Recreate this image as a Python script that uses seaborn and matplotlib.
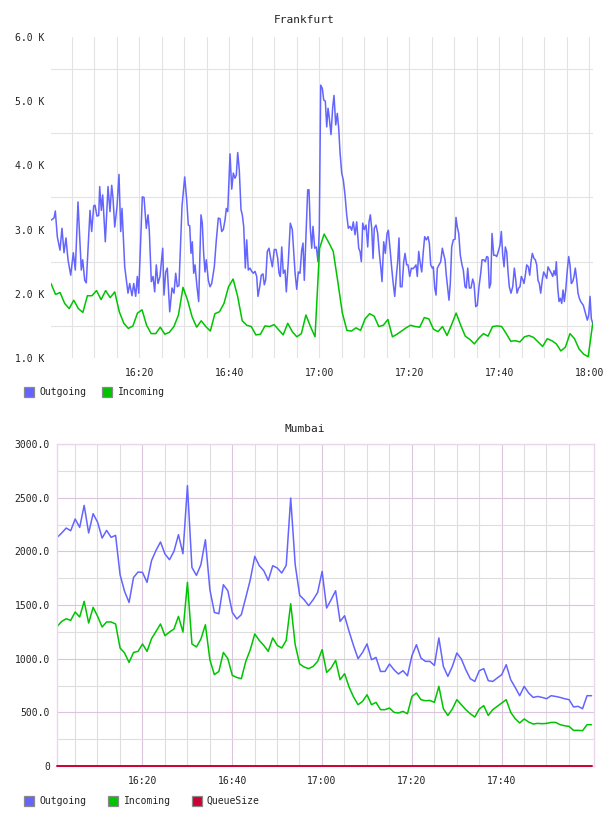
import numpy as np
import pandas as pd
import matplotlib
matplotlib.use("Agg")
import matplotlib.pyplot as plt
import seaborn as sns
from matplotlib.patches import Rectangle
from matplotlib.ticker import FixedLocator, FuncFormatter, NullFormatter

# ---------------- data ----------------
# Frankfurt (values in thousands), minutes after 16:00
fra_out_min = [
    0.47, 1.07, 1.36, 1.8, 2.4, 2.84, 3.29, 3.73, 4.18, 4.78, 5.36, 5.8, 6.4, 7.13, 7.44, 7.89, 8.24,
    9.07, 9.44, 9.89, 10.18, 10.62, 11.0, 11.22, 11.58, 11.89, 12.47, 13.07, 13.51, 13.89, 14.18,
    14.56, 15.07, 15.51, 15.89, 16.18, 16.78, 17.51, 17.89, 18.4, 18.78, 19.22, 19.58, 19.89,
    20.69, 21.07, 21.58, 21.96, 22.24, 22.69, 23.07, 23.44, 23.8, 24.18, 24.62, 25.22, 25.51,
    25.89, 26.24, 26.78, 27.29, 27.73, 28.11, 28.47, 28.84, 29.51, 30.11, 30.56, 30.91, 31.22,
    31.51, 31.8, 32.11, 32.4, 32.84, 33.22, 33.73, 34.02, 34.33, 34.62, 34.91, 35.36, 35.73,
    36.11, 36.69, 37.13, 37.58, 37.96, 38.33, 38.69, 39.07, 39.36, 39.67, 40.18, 40.56, 40.91,
    41.29, 41.58, 41.89, 42.24, 42.62, 42.91, 43.22, 43.58, 43.89, 44.24, 44.62, 45.0, 45.36,
    45.73, 46.11, 46.4, 46.78, 47.13, 47.51, 47.8, 48.11, 48.47, 48.84, 49.22, 49.58, 50.02,
    50.4, 50.78, 51.07, 51.36, 51.67, 52.02, 52.4, 52.69, 53.13, 53.58, 54.02, 54.62, 55.0,
    55.36, 55.73, 56.11, 56.4, 56.69, 57.0, 57.44, 57.73, 58.02, 58.33, 58.62, 59.0, 59.36,
    59.73, 60.02, 60.33, 60.69, 61.0, 61.36, 61.67, 61.96, 62.24, 62.62, 63.0, 63.29, 63.67,
    64.02, 64.33, 64.62, 65.0, 65.36, 65.73, 66.11, 66.47, 66.84, 67.22, 67.58, 67.96, 68.33,
    68.78, 69.07, 69.36, 69.67, 70.02, 70.4, 70.78, 71.07, 71.36, 71.67, 71.96, 72.24, 72.62,
    73.0, 73.36, 73.67, 73.96, 74.33, 74.69, 75.07, 75.36, 75.73, 76.11, 76.4, 76.78, 77.13,
    77.44, 77.73, 78.02, 78.4, 78.78, 79.07, 79.44, 79.73, 80.11, 80.47, 80.84, 81.22, 81.51,
    81.8, 82.11, 82.4, 82.78, 83.13, 83.44, 83.8, 84.18, 84.47, 84.78, 85.13, 85.36, 85.67,
    85.96, 86.24, 86.62, 87.0, 87.36, 87.67, 87.96, 88.24, 88.56, 88.84, 89.13, 89.44, 89.8,
    90.18, 90.4, 90.69, 91.0, 91.36, 91.73, 92.02, 92.4, 92.69, 93.0, 93.36, 93.73, 94.11,
    94.4, 94.78, 95.13, 95.51, 95.89, 96.18, 96.56, 96.91, 97.22, 97.51, 97.8, 98.11, 98.4,
    98.78, 99.13, 99.44, 99.8, 100.18, 100.47, 100.78, 101.07, 101.36, 101.67, 101.96, 102.24,
    102.62, 103.0, 103.36, 103.67, 103.96, 104.33, 104.62, 104.91, 105.24, 105.51, 105.8,
    106.11, 106.47, 106.78, 107.07, 107.36, 107.73, 108.02, 108.33, 108.62, 108.91, 109.22,
    109.58, 109.89, 110.24, 110.56, 110.84, 111.22, 111.58, 111.89, 112.18, 112.47, 112.69,
    113.0, 113.29, 113.58, 113.89, 114.18, 114.47, 114.78, 115.13, 115.44, 115.73, 116.02,
    116.33, 116.62, 116.91, 117.22, 117.51, 117.8, 118.11, 118.4, 118.69, 119.0, 119.29,
    119.58, 119.89, 120.18, 120.47, 120.78,
]
fra_out_k = [
    3.15, 3.18, 3.29, 2.89, 2.68, 3.02, 2.64, 2.87, 2.53, 2.29, 2.64, 2.37, 3.43, 2.37, 2.53, 2.21, 2.17,
    3.30, 2.97, 3.37, 3.38, 3.21, 3.22, 3.67, 3.30, 3.54, 2.81, 3.67, 3.28, 3.69, 3.49,
    3.04, 3.36, 3.86, 2.97, 3.33, 2.42, 2.01, 2.16, 1.97, 2.16, 1.96, 2.27, 2.01,
    3.51, 3.50, 3.02, 3.23, 2.99, 2.19, 2.27, 2.03, 2.45, 2.16, 2.27, 2.71, 1.98,
    2.34, 2.40, 1.72, 2.09, 2.01, 2.32, 2.11, 2.13, 3.36, 3.82, 3.46, 3.07, 3.06,
    2.63, 2.81, 2.32, 2.45, 2.11, 1.88, 3.23, 3.10, 2.62, 2.34, 2.53, 2.21, 2.11,
    2.16, 2.42, 2.83, 3.18, 3.17, 2.97, 3.00, 3.15, 3.33, 3.28, 4.18, 3.63, 3.88,
    3.80, 3.85, 4.20, 3.93, 3.31, 3.23, 3.05, 2.40, 2.84, 2.37, 2.40, 2.35, 2.32,
    2.35, 2.27, 1.96, 2.11, 2.29, 2.31, 2.14, 2.22, 2.66, 2.71, 2.55, 2.42, 2.69,
    2.69, 2.55, 2.32, 2.27, 2.73, 2.32, 2.37, 2.03, 2.50, 3.10, 3.00, 2.34, 2.07,
    2.34, 2.32, 2.68, 2.79, 2.21, 2.79, 3.62, 3.62, 3.02, 2.71, 3.05, 2.71, 2.73,
    2.50, 3.00, 5.25, 5.20, 5.02, 5.00, 4.60, 4.89, 4.74, 4.48, 4.91, 5.09, 4.63,
    4.81, 4.58, 4.21, 3.88, 3.77, 3.54, 3.23, 3.02, 3.05, 2.99, 3.12, 2.92, 3.12,
    2.71, 2.66, 2.50, 3.10, 3.00, 3.07, 2.73, 3.12, 3.23, 3.02, 2.55, 3.02, 3.07,
    2.94, 2.63, 2.42, 2.19, 2.81, 2.63, 2.94, 2.99, 2.71, 2.40, 2.19, 1.96, 2.27,
    2.50, 2.87, 2.11, 2.11, 2.50, 2.63, 2.45, 2.45, 2.27, 2.40, 2.39, 2.42, 2.45,
    2.27, 2.66, 2.50, 2.34, 2.66, 2.89, 2.84, 2.89, 2.79, 2.45, 2.40, 2.42, 2.09,
    1.98, 2.40, 2.45, 2.50, 2.71, 2.61, 2.53, 2.29, 2.09, 1.90, 2.16, 2.73, 2.84,
    2.85, 3.19, 3.04, 2.94, 2.60, 2.45, 2.37, 2.11, 2.09, 2.40, 2.09, 2.09, 2.23,
    2.16, 1.80, 1.82, 2.11, 2.32, 2.53, 2.53, 2.50, 2.58, 2.57, 2.09, 2.16, 2.94,
    2.60, 2.60, 2.58, 2.66, 2.76, 2.97, 2.60, 2.42, 2.73, 2.65, 2.34, 2.11,
    2.01, 2.11, 2.40, 2.22, 2.01, 2.09, 2.11, 2.27, 2.22, 2.16, 2.29,
    2.45, 2.42, 2.29, 2.50, 2.63, 2.55, 2.53, 2.45, 2.21, 2.16, 2.01,
    2.22, 2.34, 2.29, 2.24, 2.42, 2.37, 2.32, 2.27, 2.36, 2.29, 2.50,
    2.09, 1.88, 1.93, 1.85, 2.06, 1.88, 2.06, 2.37, 2.58, 2.45, 2.16,
    2.19, 2.27, 2.40, 2.22, 2.01, 1.93, 1.88, 1.85, 1.82, 1.74, 1.67,
    1.59, 1.67, 1.96, 1.61, 1.54,
]
# one sample per minute, from 16:00:24 to 18:00:47
fra_in_first_min, fra_in_last_min = 0.4, 120.78
fra_in_k = [
    2.16, 1.99, 2.02, 1.85, 1.77, 1.90, 1.77, 1.71, 1.97, 1.97,
    2.05, 1.91, 2.05, 1.94, 2.03, 1.72, 1.54, 1.46, 1.50, 1.70,
    1.75, 1.51, 1.38, 1.38, 1.48, 1.37, 1.40, 1.49, 1.67, 2.10,
    1.90, 1.64, 1.48, 1.58, 1.49, 1.42, 1.69, 1.72, 1.85, 2.11,
    2.23, 1.96, 1.58, 1.51, 1.49, 1.36, 1.37, 1.50, 1.49, 1.52,
    1.44, 1.36, 1.54, 1.41, 1.33, 1.38, 1.67, 1.49, 1.33, 2.71,
    2.93, 2.80, 2.66, 2.19, 1.70, 1.43, 1.42, 1.47, 1.43, 1.61,
    1.69, 1.65, 1.49, 1.51, 1.60, 1.33, 1.37, 1.42, 1.47, 1.51,
    1.49, 1.48, 1.63, 1.61, 1.45, 1.41, 1.49, 1.35, 1.52, 1.70,
    1.51, 1.34, 1.29, 1.22, 1.31, 1.38, 1.34, 1.49, 1.50, 1.49,
    1.38, 1.26, 1.27, 1.25, 1.33, 1.35, 1.32, 1.25, 1.18, 1.30,
    1.27, 1.22, 1.11, 1.17, 1.38, 1.30, 1.14, 1.06, 1.02, 1.54,
]
fra_ticks_k = [1, 2, 3, 4, 5, 6]

# Mumbai: one sample per minute starting 16:01:03
mum_first_min = 1.05
mum_out = [
    2130, 2171, 2217, 2192, 2301, 2223, 2428, 2171, 2351, 2270,
    2124, 2195, 2130, 2149, 1782, 1627, 1524, 1757, 1807, 1804,
    1711, 1913, 2009, 2087, 1975, 1922, 2000, 2155, 1978, 2612,
    1850, 1776, 1876, 2108, 1643, 1431, 1419, 1689, 1633, 1431,
    1370, 1410, 1570, 1736, 1953, 1866, 1820, 1729, 1866, 1845,
    1798, 1869, 2497, 1876, 1590, 1549, 1494, 1549, 1617, 1813,
    1472, 1549, 1633, 1347, 1400, 1254, 1121, 1000, 1058, 1137,
    990, 1012, 881, 881, 950, 897, 857, 888, 841, 1028,
    1130, 1006, 975, 975, 937, 1193, 928, 835, 928, 1053,
    997, 897, 813, 788, 888, 907, 795, 788, 820, 851,
    944, 804, 732, 655, 742, 680, 639, 648, 639, 627,
    655, 648, 639, 627, 618, 550, 556, 534, 655, 655,
]
mum_in = [
    1301, 1347, 1372, 1357, 1435, 1388, 1534, 1332, 1478, 1394,
    1295, 1342, 1342, 1323, 1099, 1053, 965, 1058, 1068, 1137,
    1068, 1186, 1254, 1323, 1214, 1248, 1276, 1394, 1248, 1711,
    1137, 1109, 1183, 1316, 990, 851, 881, 1058, 1000, 844,
    825, 813, 975, 1084, 1230, 1170, 1124, 1068, 1193, 1124,
    1099, 1170, 1512, 1130, 950, 922, 907, 928, 975, 1084,
    872, 913, 984, 804, 860, 736, 643, 571, 602, 664,
    571, 593, 525, 525, 540, 500, 494, 509, 487, 648,
    680, 618, 608, 611, 593, 742, 534, 471, 531, 618,
    571, 525, 487, 456, 531, 562, 471, 525, 556, 587,
    618, 500, 441, 401, 438, 410, 391, 397, 394, 397,
    406, 406, 385, 375, 369, 332, 332, 329, 385, 385,
]
mum_queue = [0] * len(mum_out)  # QueueSize stays at zero all along
mum_ticks = [0, 500, 1000, 1500, 2000, 2500, 3000]

time_ticks_min = [20, 40, 60, 80, 100, 120]
time_tick_labels = ["16:20", "16:40", "17:00", "17:20", "17:40", "18:00"]

# ---------------- style ----------------
BLUE = "#6464FF"
GREEN = "#00C400"
RED = "#CC0033"
TXT = "#222222"

sns.set_theme(style="white")
plt.rcParams["font.family"] = ["DejaVu Sans Mono", "DejaVu Sans"]

W, H = 608, 816
fig = plt.figure(figsize=(W / 100, H / 100), dpi=100)
fig.patch.set_facecolor("white")


def fx(px):
    return px / W


def fy(py):
    return 1 - py / H


def axes_box(l, t, r, b):
    return [fx(l), fy(b), fx(r) - fx(l), fy(t) - fy(b)]


# ---------------- Frankfurt ----------------
ax1 = fig.add_axes(axes_box(51, 37, 593, 358))
fra_in_min = np.linspace(fra_in_first_min, fra_in_last_min, len(fra_in_k))
df1 = pd.concat([
    pd.DataFrame({"minute": fra_out_min, "value": fra_out_k, "series": "Outgoing"}),
    pd.DataFrame({"minute": fra_in_min, "value": fra_in_k, "series": "Incoming"}),
], ignore_index=True)
sns.lineplot(data=df1, x="minute", y="value", hue="series",
             hue_order=["Outgoing", "Incoming"],
             palette={"Outgoing": BLUE, "Incoming": GREEN},
             estimator=None, sort=False, legend=False, linewidth=1.1, ax=ax1)
ax1.set_xlim(0.4, 120.84)
ax1.set_ylim(1.0, 6.0)
ax1.set_xlabel("")
ax1.set_ylabel("")
ax1.set_axisbelow(True)
ax1.xaxis.set_major_locator(FixedLocator(time_ticks_min))
ax1.xaxis.set_major_formatter(FuncFormatter(lambda v, p: time_tick_labels[time_ticks_min.index(int(round(v)))]))
ax1.xaxis.set_minor_locator(FixedLocator(list(range(5, 121, 5))))
ax1.xaxis.set_minor_formatter(NullFormatter())
ax1.yaxis.set_major_locator(FixedLocator(fra_ticks_k))
ax1.yaxis.set_major_formatter(FuncFormatter(lambda v, p: f"{v:.1f} K"))
ax1.yaxis.set_minor_locator(FixedLocator([t + 0.5 for t in fra_ticks_k[:-1]]))
ax1.grid(False)
ax1.grid(True, axis="x", which="both", color="#e3e3e3", linewidth=0.8)
ax1.grid(True, axis="y", which="minor", color="#e3e3e3", linewidth=0.8)
for s in ax1.spines.values():
    s.set_visible(False)
ax1.tick_params(axis="both", which="both", length=0, labelsize=7, labelcolor=TXT)
ax1.tick_params(axis="x", pad=7.5)
ax1.tick_params(axis="y", pad=5)
fig.text(fx(304.5), fy(20), "Frankfurt", ha="center", va="center", fontsize=8, color=TXT)

# ---------------- Mumbai ----------------
ax2 = fig.add_axes(axes_box(57, 444, 594, 766))
mum_min = mum_first_min + np.arange(len(mum_out))
df2 = pd.concat([
    pd.DataFrame({"minute": mum_min, "value": mum_out, "series": "Outgoing"}),
    pd.DataFrame({"minute": mum_min, "value": mum_in, "series": "Incoming"}),
    pd.DataFrame({"minute": mum_min, "value": mum_queue, "series": "QueueSize"}),
], ignore_index=True)
sns.lineplot(data=df2, x="minute", y="value", hue="series",
             hue_order=["Outgoing", "Incoming", "QueueSize"],
             palette={"Outgoing": BLUE, "Incoming": GREEN, "QueueSize": RED},
             estimator=None, sort=False, legend=False, linewidth=1.1, ax=ax2)
queue_line = ax2.lines[-1]
queue_line.set_clip_on(False)
queue_line.set_linewidth(1.4)
queue_line.set_zorder(5)
ax2.set_xlim(1.0, 120.6)
ax2.set_ylim(0, 3000)
ax2.set_xlabel("")
ax2.set_ylabel("")
ax2.set_axisbelow(True)
ax2.xaxis.set_major_locator(FixedLocator(time_ticks_min[:-1]))
ax2.xaxis.set_major_formatter(FuncFormatter(lambda v, p: time_tick_labels[time_ticks_min.index(int(round(v)))]))
ax2.xaxis.set_minor_locator(FixedLocator([m for m in range(5, 121, 5) if m % 20]))
ax2.xaxis.set_minor_formatter(NullFormatter())
ax2.yaxis.set_major_locator(FixedLocator(mum_ticks))
ax2.yaxis.set_major_formatter(FuncFormatter(lambda v, p: "0" if v == 0 else f"{v:.1f}"))
ax2.yaxis.set_minor_locator(FixedLocator([t + 250 for t in mum_ticks[:-1]]))
ax2.grid(False)
ax2.grid(True, which="major", color="#dcc4dc", linewidth=0.8)
ax2.grid(True, which="minor", color="#dedede", linewidth=0.8)
for s in ax2.spines.values():
    s.set_visible(True)
    s.set_color("#ecd6ec")
    s.set_linewidth(1.0)
ax2.tick_params(axis="both", which="both", length=0, labelsize=7, labelcolor=TXT)
ax2.tick_params(axis="x", pad=7.5)
ax2.tick_params(axis="y", pad=5)
fig.text(fx(304.5), fy(429), "Mumbai", ha="center", va="center", fontsize=8, color=TXT)


# ---------------- legends ----------------
def legend_entry(sq_x, txt_x, yc, color, label):
    fig.patches.append(Rectangle((fx(sq_x), fy(yc + 5)), fx(10), 10 / H,
                                 transform=fig.transFigure, facecolor=color,
                                 edgecolor="#8a8a8a", linewidth=0.9))
    fig.text(fx(txt_x), fy(yc), label, ha="left", va="center", fontsize=7, color=TXT)


legend_entry(24, 39, 392, BLUE, "Outgoing")
legend_entry(102, 118, 392, GREEN, "Incoming")
legend_entry(24, 39, 800.5, BLUE, "Outgoing")
legend_entry(108, 124, 800.5, GREEN, "Incoming")
legend_entry(192, 206, 800.5, RED, "QueueSize")

fig.savefig("out.png", dpi=100, facecolor="white")
